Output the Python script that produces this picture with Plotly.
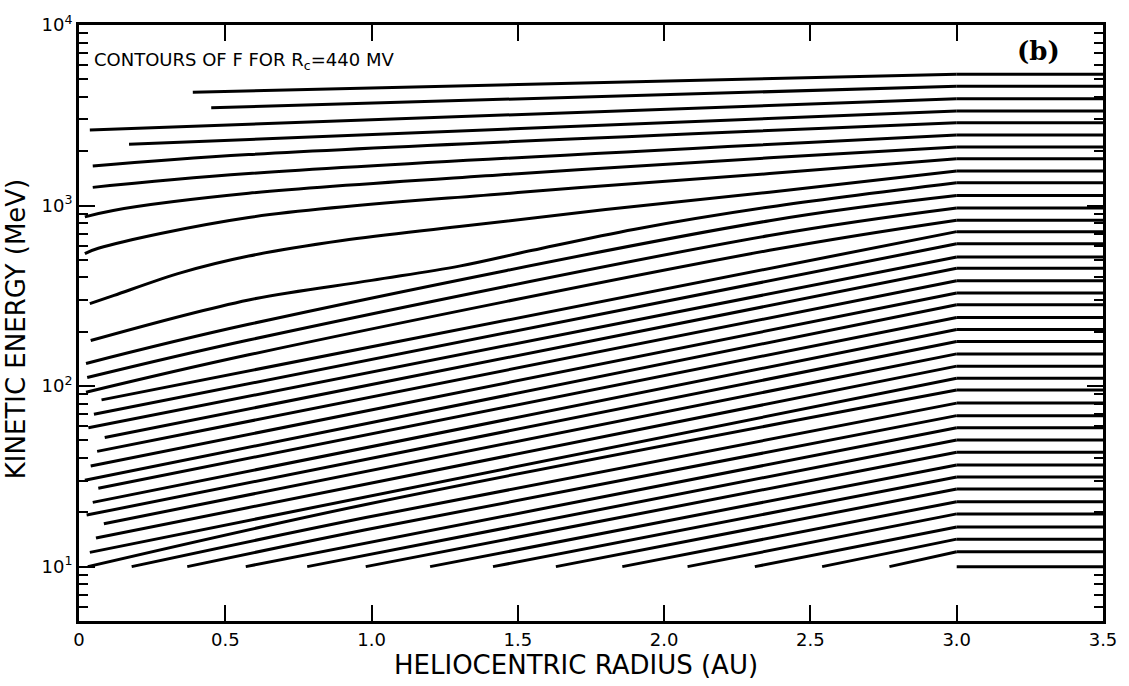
import plotly.graph_objects as go

# Contours of F (Rc = 440 MV): each contour is a polyline in (r [AU], T [MeV]).
# Contour levels at the outer boundary (r = 3.0 to 3.5 AU), lowest to highest.
outer_T = [10, 12.1, 14.2, 16.6, 19.6, 22.9, 26.9, 31.4, 36.6, 43.0,
           50.3, 58.8, 68.6, 80.5, 95.1, 110.6, 129.0, 150.8, 176.6, 205.8,
           239.9, 282.3, 328.2, 383, 449, 519, 614, 717, 830, 969,
           1136, 1338, 1555, 1815, 2110, 2462, 2877, 3344, 3903, 4577, 5340]

# Inner end of each contour (r, T)
start_r = [3.0, 2.77, 2.54, 2.31, 2.08, 1.857, 1.63, 1.415, 1.20, 0.98,
           0.78, 0.57, 0.37, 0.18, 0.03, 0.037, 0.058, 0.085, 0.026, 0.047,
           0.066, 0.020, 0.040, 0.062, 0.088, 0.032, 0.051, 0.077, 0.024, 0.028,
           0.024, 0.040, 0.037, 0.020, 0.020, 0.047, 0.047, 0.171, 0.037, 0.452, 0.389]
start_T = [10, 10, 10, 10, 10, 10, 10, 10, 10, 10,
           10, 10, 10, 10, 10, 12.0, 14.4, 17.3, 19.3, 22.7,
           27.2, 30.1, 36.1, 43.5, 51.9, 58.8, 69.8, 83.9, 92.4, 111.5,
           133.5, 178.8, 286, 542, 865, 1261, 1656, 2183, 2621, 3483, 4246]

# Interior vertices of the contours that bend between the inner end and r = 3.0
bend_r = {
    12: [0.98],
    13: [0.98],
    14: [0.98],
    28: [0.58, 2.36],
    29: [0.58, 2.36],
    30: [0.58, 2.36],
    31: [0.58, 1.00, 1.30, 1.55, 1.90, 2.36],
    32: [0.12, 0.35, 0.58, 0.90, 1.30, 1.80, 2.36],
    33: [0.066, 0.58, 1.50, 2.36],
    34: [0.117, 0.58, 1.50, 2.36],
    35: [0.58],
    36: [0.58],
}
bend_T = {
    12: [16.0],
    13: [18.7],
    14: [22.1],
    28: [149, 565],
    29: [180, 682],
    30: [220, 824],
    31: [300, 385, 462, 565, 740, 982],
    32: [318, 425, 525, 640, 765, 950, 1186],
    33: [580, 859, 1180, 1503],
    34: [940, 1169, 1500, 1837],
    35: [1503],
    36: [1915],
}

R_BREAK, R_MAX = 3.0, 3.5
line_style = dict(color="black", width=3)

fig = go.Figure()
for k, T_out in enumerate(outer_T):
    if start_r[k] < R_BREAK:
        # inner (sloping) part of the contour, up to the r = 3 AU break
        r = [start_r[k]] + bend_r.get(k, []) + [R_BREAK]
        T = [start_T[k]] + bend_T.get(k, []) + [T_out]
        fig.add_trace(go.Scatter(x=r, y=T, mode="lines",
                                 line=dict(shape="spline", smoothing=1.0, **line_style),
                                 hoverinfo="skip", showlegend=False))
    # outer (flat) part of the contour
    fig.add_trace(go.Scatter(x=[R_BREAK, R_MAX], y=[T_out, T_out], mode="lines",
                             line=line_style, hoverinfo="skip", showlegend=False))

x_ticks = [0, 0.5, 1.0, 1.5, 2.0, 2.5, 3.0, 3.5]
x_ticktext = ["0", "0.5", "1.0", "1.5", "2.0", "2.5", "3.0", "3.5"]
y_ticks = [10, 100, 1000, 10000]
y_ticktext = ["10<sup>1</sup>", "10<sup>2</sup>", "10<sup>3</sup>", "10<sup>4</sup>"]
y_minor = [m * d for d in (1, 10, 100, 1000) for m in range(2, 10) if 5 <= m * d < 10000]

font_main = "DejaVu Sans, Verdana, sans-serif"

fig.update_xaxes(range=[0, 3.5], showline=True, linecolor="black", linewidth=3,
                 mirror="ticks", ticks="inside", ticklen=16, tickwidth=2,
                 tickcolor="black", tickvals=x_ticks, ticktext=x_ticktext,
                 showgrid=False, zeroline=False,
                 tickfont=dict(family=font_main, size=18, color="black"))
fig.update_yaxes(type="log", range=[0.69897, 4], showline=True, linecolor="black",
                 linewidth=3, mirror="ticks", ticks="inside", ticklen=16, tickwidth=2,
                 tickcolor="black", tickvals=y_ticks, ticktext=y_ticktext,
                 showgrid=False, zeroline=False,
                 tickfont=dict(family=font_main, size=18, color="black"),
                 minor=dict(tickvals=y_minor, ticks="inside", ticklen=9,
                            tickwidth=2, tickcolor="black", showgrid=False))

fig.update_layout(
    width=1129, height=686,
    margin=dict(l=79, r=22, t=15, b=65),
    paper_bgcolor="white", plot_bgcolor="white",
    annotations=[
        dict(text="HELIOCENTRIC RADIUS (AU)", xref="paper", yref="paper",
             x=0.4854, y=-0.073, xanchor="center", yanchor="middle", showarrow=False,
             font=dict(family=font_main, size=26, color="black")),
        dict(text="KINETIC ENERGY (MeV)", xref="paper", yref="paper",
             x=-0.0613, y=0.49, xanchor="center", yanchor="middle", showarrow=False,
             textangle=-90, font=dict(family=font_main, size=26, color="black")),
        dict(text="CONTOURS OF F FOR R<sub>c</sub>=440 MV", xref="paper", yref="paper",
             x=0.0126, y=0.939, xanchor="left", yanchor="middle", showarrow=False,
             font=dict(family=font_main, size=18, color="black")),
        dict(text="<b>(b)</b>", xref="paper", yref="paper",
             x=0.937, y=0.956, xanchor="center", yanchor="middle", showarrow=False,
             font=dict(family="DejaVu Serif, serif", size=26, color="black")),
    ],
)

fig.write_html("out.html")
